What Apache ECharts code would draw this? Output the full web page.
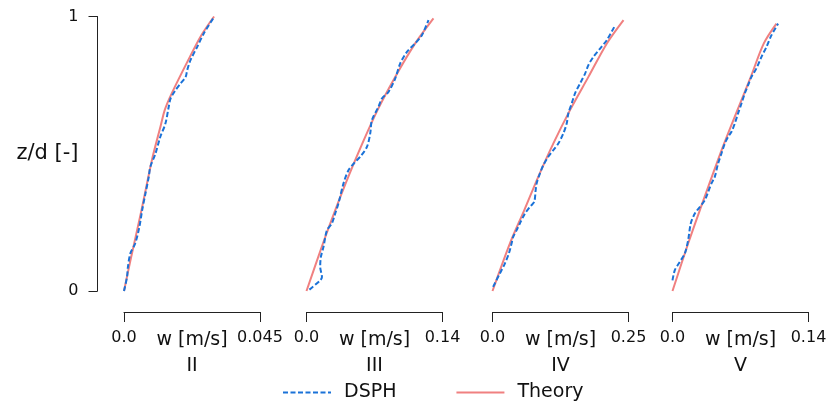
<!DOCTYPE html>
<html>
<head>
<meta charset="utf-8">
<script src="https://cdn.jsdelivr.net/npm/echarts@6/dist/echarts.min.js"></script>
<style>
  html, body { margin: 0; padding: 0; background: #fff; }
  #chart { width: 834px; height: 407px; }
</style>
</head>
<body>
<div id="chart"></div>
<script>
// Panel titles and x-axis ranges
const panels = ['II', 'III', 'IV', 'V'];
const xMax = [0.045, 0.14, 0.25, 0.14];
const xTickLabels = [['0.0', '0.045'], ['0.0', '0.14'], ['0.0', '0.25'], ['0.0', '0.14']];
const yTickLabels = ['0', '1'];

// Theory profiles: vertical velocity w [m/s] against z/d
const theoryII_z = [0, 0.11, 0.29, 0.48, 0.60, 0.66, 0.72, 0.84, 0.93, 1.0];
const theoryII_w = [0, 0.0021, 0.0057, 0.0093, 0.0121, 0.0135, 0.0158, 0.0212, 0.0255, 0.0298];

const theoryIII_z = [0, 0.173, 0.294, 0.416, 0.537, 0.659, 0.78, 0.902, 0.993];
const theoryIII_w = [0, 0.0169, 0.0295, 0.0430, 0.0574, 0.0731, 0.0913, 0.1119, 0.1307];

const theoryIV_z = [0, 0.173, 0.294, 0.416, 0.537, 0.659, 0.78, 0.902, 0.987];
const theoryIV_w = [0, 0.0319, 0.0583, 0.0841, 0.1117, 0.1425, 0.1763, 0.2102, 0.2408];

const theoryV_z = [0, 0.173, 0.294, 0.537, 0.78, 0.902, 0.974];
const theoryV_w = [0, 0.0161, 0.0281, 0.0531, 0.0806, 0.094, 0.107];

// DSPH simulation profiles
const dsphII_z = [0, 0.051, 0.088, 0.137, 0.173, 0.234, 0.294, 0.355, 0.416, 0.452, 0.50, 0.561, 0.61, 0.671, 0.701, 0.731, 0.756, 0.78, 0.804, 0.841, 0.889, 0.938, 0.998];
const dsphII_w = [0, 0.0010, 0.0013, 0.0021, 0.0037, 0.0051, 0.0060, 0.0071, 0.0082, 0.0087, 0.0104, 0.0120, 0.0137, 0.0148, 0.0154, 0.0170, 0.0187, 0.0204, 0.0209, 0.0220, 0.0242, 0.0264, 0.0298];

const dsphIII_z = [0.005, 0.039, 0.051, 0.088, 0.124, 0.161, 0.221, 0.246, 0.282, 0.319, 0.392, 0.440, 0.470, 0.489, 0.525, 0.574, 0.622, 0.671, 0.701, 0.725, 0.774, 0.829, 0.871, 0.902, 0.932, 0.987];
const dsphIII_w = [0.003, 0.0141, 0.0159, 0.0141, 0.0148, 0.0175, 0.0210, 0.0261, 0.0295, 0.0329, 0.0381, 0.0432, 0.0501, 0.0553, 0.0622, 0.0656, 0.0673, 0.0741, 0.0776, 0.0844, 0.0913, 0.0965, 0.1034, 0.1119, 0.1188, 0.1256];

const dsphIV_z = [0.015, 0.064, 0.10, 0.137, 0.173, 0.197, 0.221, 0.246, 0.282, 0.306, 0.325, 0.367, 0.392, 0.428, 0.458, 0.489, 0.513, 0.537, 0.574, 0.61, 0.647, 0.683, 0.72, 0.756, 0.792, 0.823, 0.853, 0.883, 0.914, 0.968];
const dsphIV_w = [0.0011, 0.0135, 0.0227, 0.0301, 0.035, 0.038, 0.0442, 0.0503, 0.0596, 0.0688, 0.0767, 0.0793, 0.0811, 0.0872, 0.0933, 0.1025, 0.1117, 0.121, 0.1302, 0.1364, 0.1394, 0.1456, 0.1517, 0.161, 0.1702, 0.1763, 0.1855, 0.1978, 0.2102, 0.2255];

const dsphV_z = [0.039, 0.076, 0.106, 0.137, 0.185, 0.246, 0.282, 0.306, 0.331, 0.361, 0.392, 0.416, 0.464, 0.501, 0.537, 0.561, 0.58, 0.61, 0.647, 0.683, 0.72, 0.75, 0.78, 0.811, 0.853, 0.889, 0.932, 0.974];
const dsphV_w = [0, 0.0024, 0.0075, 0.0127, 0.0161, 0.0188, 0.023, 0.0281, 0.0333, 0.0367, 0.0401, 0.0435, 0.0469, 0.0504, 0.0538, 0.0572, 0.0607, 0.0641, 0.0675, 0.071, 0.0744, 0.0778, 0.0813, 0.0864, 0.0916, 0.0967, 0.1019, 0.1087];

const theoryW = [theoryII_w, theoryIII_w, theoryIV_w, theoryV_w];
const theoryZ = [theoryII_z, theoryIII_z, theoryIV_z, theoryV_z];
const dsphW = [dsphII_w, dsphIII_w, dsphIV_w, dsphV_w];
const dsphZ = [dsphII_z, dsphIII_z, dsphIV_z, dsphV_z];

const FONT = 'DejaVu Sans';
const AXIS_COLOR = '#222';
const BLUE = '#1a72d8';
const RED = '#f08080';

const gridLeft = [124, 306.5, 492.5, 672.5];
const gridWidth = 136;
const gridTop = 16.5;
const gridHeight = 274.5;

const zip = (w, z) => w.map((v, i) => [v, z[i]]);

const grids = [], xAxes = [], yAxes = [], series = [];
panels.forEach((name, i) => {
  grids.push({
    left: gridLeft[i], top: gridTop, width: gridWidth, height: gridHeight,
    containLabel: false, outerBoundsMode: 'none'
  });
  xAxes.push({
    gridIndex: i, type: 'value', min: 0, max: xMax[i], interval: xMax[i],
    position: 'bottom', offset: 21,
    splitLine: { show: false },
    axisLine: { show: true, onZero: false, lineStyle: { color: AXIS_COLOR, width: 1 } },
    axisTick: { show: true, length: 10, lineStyle: { color: AXIS_COLOR } },
    axisLabel: {
      margin: 18, color: '#111', fontFamily: FONT, fontSize: 16,
      formatter: v => (v === 0 ? xTickLabels[i][0] : xTickLabels[i][1])
    },
    name: '{a|w [m/s]}\n{b|' + name + '}',
    nameLocation: 'middle', nameGap: 15, nameMoveOverlap: false,
    nameTextStyle: {
      color: '#111', fontFamily: FONT,
      rich: {
        a: { fontSize: 19, fontFamily: FONT, color: '#111', lineHeight: 26 },
        b: { fontSize: 19, fontFamily: FONT, color: '#111', lineHeight: 26 }
      }
    }
  });
  yAxes.push({
    gridIndex: i, type: 'value', min: 0, max: 1, interval: 1,
    show: i === 0, position: 'left', offset: 26.5,
    splitLine: { show: false },
    axisLine: { show: true, onZero: false, lineStyle: { color: AXIS_COLOR, width: 1 } },
    axisTick: { show: true, length: 9, lineStyle: { color: AXIS_COLOR } },
    axisLabel: {
      margin: 19, color: '#111', fontFamily: FONT, fontSize: 16,
      formatter: v => (v === 0 ? yTickLabels[0] : yTickLabels[1])
    },
    name: 'z/d [-]', nameLocation: 'middle', nameRotate: 0, nameGap: 19, nameMoveOverlap: false,
    nameTextStyle: { color: '#111', fontFamily: FONT, fontSize: 21, align: 'right' }
  });
  series.push({
    name: 'Theory', type: 'line', xAxisIndex: i, yAxisIndex: i,
    data: zip(theoryW[i], theoryZ[i]), smooth: 0.3, symbol: 'none', clip: false,
    lineStyle: { color: RED, width: 2 }, itemStyle: { color: RED }, z: 2
  });
  series.push({
    name: 'DSPH', type: 'line', xAxisIndex: i, yAxisIndex: i,
    data: zip(dsphW[i], dsphZ[i]), smooth: 0.3, symbol: 'none', clip: false,
    lineStyle: { color: BLUE, width: 2, type: [5, 2.5] }, itemStyle: { color: BLUE }, z: 3
  });
});

const chart = echarts.init(document.getElementById('chart'), null, { renderer: 'canvas' });
chart.setOption({
  animation: false,
  backgroundColor: '#fff',
  grid: grids,
  xAxis: xAxes,
  yAxis: yAxes,
  legend: {
    data: ['DSPH', 'Theory'],
    left: 282, top: 383, padding: 0,
    itemWidth: 48, itemHeight: 18, itemGap: 59,
    itemStyle: { opacity: 0 },
    textStyle: { fontFamily: FONT, fontSize: 19, color: '#111', padding: [0, 0, 0, 8] }
  },
  series: series
});
</script>
</body>
</html>
